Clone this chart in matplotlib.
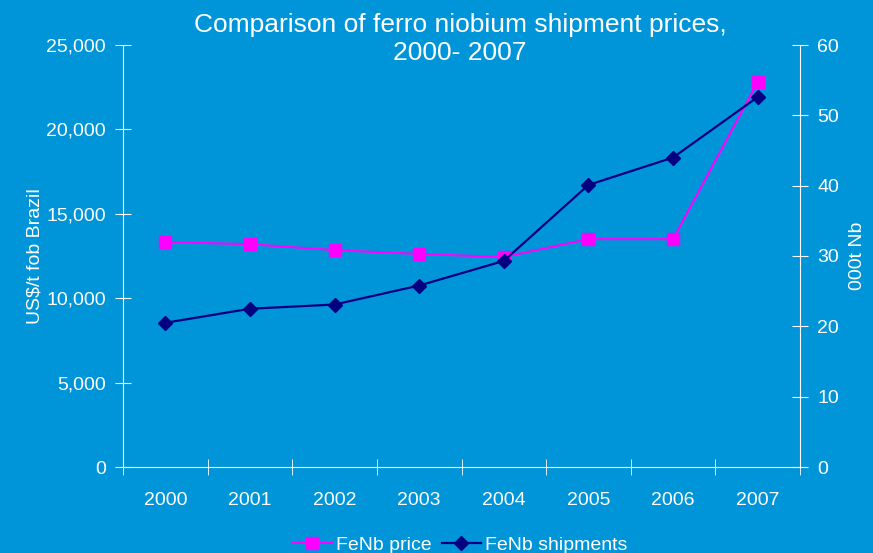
import matplotlib.pyplot as plt
import matplotlib.ticker as mticker

# === data ===
years = ['2000', '2001', '2002', '2003', '2004', '2005', '2006', '2007']
price_usd_t = [13330, 13200, 12850, 12620, 12440, 13500, 13500, 22800]   # US$/t fob Brazil
shipments_kt = [20.5, 22.5, 23.1, 25.8, 29.3, 40.1, 44.0, 52.6]          # 000t Nb

# === style ===
BG = '#0095D9'
FG = 'white'
plt.rcParams['font.family'] = ['Liberation Sans', 'DejaVu Sans']

fig = plt.figure(figsize=(8.73, 5.53), dpi=100, facecolor=BG)
ax = fig.add_axes([123 / 873, 1 - 467 / 553, 677 / 873, 422 / 553])
ax.set_facecolor(BG)
ax2 = ax.twinx()

x = list(range(len(years)))
l1, = ax.plot(x, price_usd_t, color='#FF00FF', marker='s', markersize=9, lw=1.5,
              label='FeNb price')
l2, = ax2.plot(x, shipments_kt, color='#000080', marker='D', markersize=7.5, lw=1.6,
               label='FeNb shipments')

# axes limits / ticks
ax.set_xlim(-0.5, len(years) - 0.5)
ax.set_ylim(0, 25000)
ax.set_yticks(range(0, 25001, 5000))
ax.yaxis.set_major_formatter(mticker.FuncFormatter(lambda v, p: f"{int(v):,}"))
ax2.set_ylim(0, 60)
ax2.set_yticks(range(0, 61, 10))

ax.set_xticks(x)
ax.set_xticklabels(years)
ax.set_xticks([i + 0.5 for i in range(-1, len(years))], minor=True)
ax.tick_params(axis='x', which='major', length=0, pad=18)
ax.tick_params(axis='x', which='minor', direction='inout', length=11, color=FG)

for a in (ax, ax2):
    for s in a.spines.values():
        s.set_visible(False)
    a.tick_params(axis='y', direction='inout', length=11, color=FG, labelcolor=FG,
                  labelsize=14, pad=7)
ax.tick_params(axis='x', labelcolor=FG, labelsize=14)
ax.spines['left'].set_visible(True)
ax.spines['left'].set_color(FG)
ax.spines['bottom'].set_visible(True)
ax.spines['bottom'].set_color(FG)
ax2.spines['right'].set_visible(True)
ax2.spines['right'].set_color(FG)

ax.set_ylabel('US$/t fob Brazil', color=FG, fontsize=14, labelpad=2)
ax2.set_ylabel('000t Nb', color=FG, fontsize=14, rotation=90, labelpad=7)

fig.text(0.527, 0.93, 'Comparison of ferro niobium shipment prices,\n2000- 2007',
         ha='center', va='center', color=FG, fontsize=19, linespacing=1.2)

leg = fig.legend(handles=[l1, l2], loc='center', bbox_to_anchor=(0.527, 0.014), ncol=2,
                 frameon=False, fontsize=14, handlelength=2.0, handletextpad=0.2,
                 columnspacing=0.55)
for t in leg.get_texts():
    t.set_color(FG)

fig.savefig('out.png', dpi=100, facecolor=BG)
